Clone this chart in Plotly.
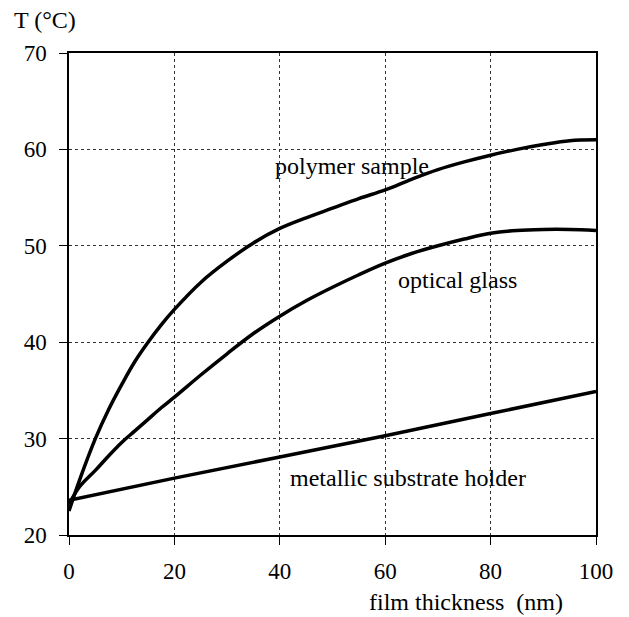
import plotly.graph_objects as go

thickness = [0, 2, 5, 7.5, 10, 12.5, 15, 17.5, 20, 25, 30, 35, 40, 45, 50, 55, 60, 65, 70, 75, 80, 85, 90, 95, 100]
polymer_T = [22.5, 25.7, 30.0, 33.0, 35.6, 38.0, 40.0, 41.8, 43.4, 46.2, 48.4, 50.3, 51.8, 52.9, 53.9, 54.9, 55.8, 56.9, 57.9, 58.7, 59.4, 60.0, 60.5, 60.9, 61.0]
glass_T = [23.2, 25.0, 26.7, 28.2, 29.6, 30.8, 32.0, 33.2, 34.3, 36.6, 38.8, 40.9, 42.7, 44.3, 45.7, 47.0, 48.2, 49.2, 50.0, 50.7, 51.3, 51.6, 51.7, 51.7, 51.6]
holder_x = [0, 20, 40, 60, 80, 100]
holder_T = [23.6, 25.9, 28.1, 30.3, 32.6, 34.9]

x_ticks = [0, 20, 40, 60, 80, 100]
y_ticks = [20, 30, 40, 50, 60, 70]

labels = ["polymer sample", "optical glass", "metallic substrate holder"]
label_x = [53.7, 73.8, 64.3]
label_y = [58.3, 46.5, 25.9]

font = "Liberation Serif, Times New Roman, serif"

W, H = 629, 617
L, R, T, B = 69, 33, 53, 82


def paper_x(px):
    return (px - L) / (W - L - R)


def paper_y(py):
    return 1 - (py - T) / (H - T - B)


fig = go.Figure()
line = dict(color="black", width=3.5)
fig.add_trace(go.Scatter(x=thickness, y=polymer_T, mode="lines", line=line, line_shape="spline"))
fig.add_trace(go.Scatter(x=thickness, y=glass_T, mode="lines", line=line, line_shape="spline"))
fig.add_trace(go.Scatter(x=holder_x, y=holder_T, mode="lines", line=line))

for t, lx, ly in zip(labels, label_x, label_y):
    fig.add_annotation(x=lx, y=ly, text=t, showarrow=False, xanchor="center", yanchor="middle",
                       font=dict(family=font, size=24, color="black"))

fig.add_annotation(x=paper_x(45), y=paper_y(20), xref="paper", yref="paper", text="T (°C)",
                   showarrow=False, xanchor="center", yanchor="middle",
                   font=dict(family=font, size=24, color="black"))
fig.add_annotation(x=paper_x(466), y=paper_y(602), xref="paper", yref="paper",
                   text="film thickness&nbsp;&nbsp;(nm)", showarrow=False,
                   xanchor="center", yanchor="middle",
                   font=dict(family=font, size=24, color="black"))

axis_common = dict(
    showline=True, linecolor="black", linewidth=1.5, mirror=True,
    ticks="outside", ticklen=8, tickcolor="black", tickwidth=1,
    showgrid=True, gridcolor="#333333", gridwidth=1, griddash="dot",
    zeroline=False, tickfont=dict(family=font, size=23, color="black"),
)
fig.update_xaxes(range=[0, 100], tickvals=x_ticks, ticklabelstandoff=7, **axis_common)
fig.update_yaxes(range=[20, 70], tickvals=y_ticks, ticklabelstandoff=8, **axis_common)

fig.update_layout(
    width=W, height=H, margin=dict(l=L, r=R, t=T, b=B),
    paper_bgcolor="white", plot_bgcolor="white", showlegend=False,
)
fig.write_html("out.html")
